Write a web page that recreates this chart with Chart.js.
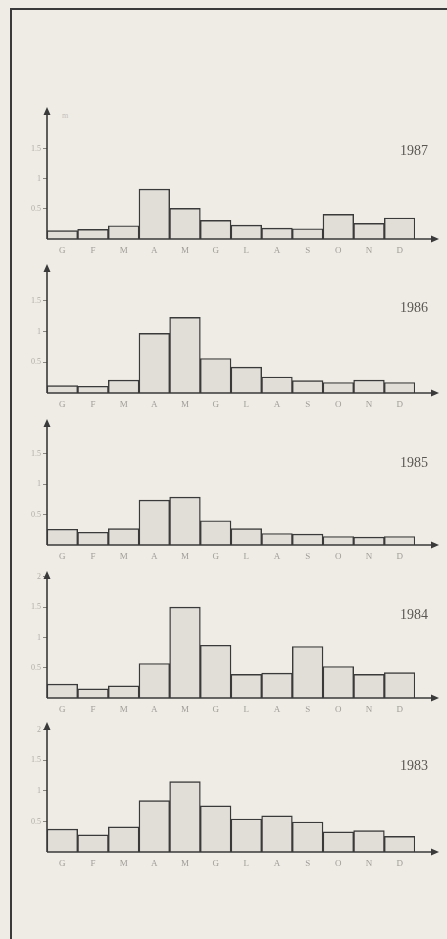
<!DOCTYPE html>
<html>
<head>
<meta charset="utf-8">
<script src="https://cdn.jsdelivr.net/npm/chart.js@4"></script>
<style>
    html, body { margin: 0; padding: 0; }
    body { width: 447px; height: 939px; background: #efece6; position: relative; overflow: hidden; }
    #frame { position: absolute; left: 10px; top: 8px; width: 460px; height: 960px;
             border-left: 2px solid #3a3a3a; border-top: 2px solid #3a3a3a; }
    canvas { position: absolute; left: 0; }
    #unit { position: absolute; left: 62px; top: 111px; font: 8px "Liberation Serif", serif; color: #c4c0ba; }
</style>
</head>
<body>
<div id="frame"></div>
<div id="unit">m</div>

<script>
const months = ['G', 'F', 'M', 'A', 'M', 'G', 'L', 'A', 'S', 'O', 'N', 'D'];
const years = ['1987', '1986', '1985', '1984', '1983'];

const values1987 = [0.14, 0.16, 0.22, 0.83, 0.51, 0.31, 0.23, 0.18, 0.17, 0.41, 0.26, 0.35];
const values1986 = [0.12, 0.11, 0.21, 0.97, 1.23, 0.56, 0.42, 0.26, 0.20, 0.17, 0.21, 0.17];
const values1985 = [0.26, 0.21, 0.27, 0.74, 0.79, 0.40, 0.27, 0.19, 0.18, 0.14, 0.13, 0.14];
const values1984 = [0.23, 0.15, 0.20, 0.57, 1.50, 0.87, 0.39, 0.41, 0.85, 0.52, 0.39, 0.42];
const values1983 = [0.375, 0.28, 0.41, 0.84, 1.15, 0.755, 0.54, 0.59, 0.49, 0.33, 0.35, 0.255];

const ticks1987 = [0.5, 1, 1.5];
const ticks1986 = [0.5, 1, 1.5];
const ticks1985 = [0.5, 1, 1.5];
const ticks1984 = [0.5, 1, 1.5, 2];
const ticks1983 = [0.5, 1, 1.5, 2];

const allValues = [values1987, values1986, values1985, values1984, values1983];
const allTicks = [ticks1987, ticks1986, ticks1985, ticks1984, ticks1983];

// layout: y of the arrow tip and of the baseline for each panel
const axisTops = [108, 265, 420, 572, 723];
const baselines = [239, 393, 545, 698, 852];
const axisMax = [2.18, 2.08, 2.06, 2.08, 2.11];

const PAD_TOP = 8;
const X_AXIS_H = 24;
const Y_AXIS_W = 47;
const INK = '#3a3a3a';
const SERIF = '"Liberation Serif", "DejaVu Serif", serif';

const axesPlugin = {
    id: 'arrowAxes',
    afterDatasetsDraw(chart, args, opts) {
        const ctx = chart.ctx;
        const a = chart.chartArea;
        const xEnd = a.right + 23;
        ctx.save();
        ctx.strokeStyle = INK;
        ctx.fillStyle = INK;
        ctx.lineWidth = 1.6;
        ctx.beginPath();
        ctx.moveTo(a.left, a.bottom);
        ctx.lineTo(a.left, a.top + 4);
        ctx.moveTo(a.left, a.bottom);
        ctx.lineTo(xEnd - 4, a.bottom);
        ctx.stroke();
        // arrow heads
        ctx.beginPath();
        ctx.moveTo(a.left, a.top - 1);
        ctx.lineTo(a.left - 3.5, a.top + 7);
        ctx.lineTo(a.left + 3.5, a.top + 7);
        ctx.closePath();
        ctx.fill();
        ctx.beginPath();
        ctx.moveTo(xEnd + 1, a.bottom);
        ctx.lineTo(xEnd - 7, a.bottom - 3.5);
        ctx.lineTo(xEnd - 7, a.bottom + 3.5);
        ctx.closePath();
        ctx.fill();
        // year label
        ctx.font = '14px ' + SERIF;
        ctx.fillStyle = '#5a5752';
        ctx.textAlign = 'right';
        ctx.textBaseline = 'middle';
        ctx.fillText(opts.year, a.right + 13, a.top + 43);
        ctx.restore();
    }
};

years.forEach((year, i) => {
    const canvas = document.createElement('canvas');
    const h = baselines[i] - axisTops[i] + PAD_TOP + X_AXIS_H;
    canvas.style.top = (axisTops[i] - PAD_TOP) + 'px';
    canvas.style.width = '447px';
    canvas.style.height = h + 'px';
    canvas.width = 447;
    canvas.height = h;
    document.body.appendChild(canvas);

    const tickVals = allTicks[i];

    new Chart(canvas, {
        type: 'bar',
        data: {
            labels: months,
            datasets: [{
                data: allValues[i],
                backgroundColor: '#e1ded8',
                borderColor: INK,
                borderWidth: 1.4,
                barPercentage: 1,
                categoryPercentage: 1
            }]
        },
        plugins: [axesPlugin],
        options: {
            responsive: false,
            animation: false,
            events: [],
            layout: { padding: { top: PAD_TOP, right: 32, left: 0, bottom: 0 } },
            plugins: {
                legend: { display: false },
                tooltip: { enabled: false },
                arrowAxes: { year: year }
            },
            scales: {
                x: {
                    grid: { display: false, drawTicks: false },
                    border: { display: false },
                    ticks: {
                        color: '#a09d98',
                        font: { family: SERIF, size: 9 },
                        padding: 6,
                        maxRotation: 0,
                        autoSkip: false
                    },
                    afterFit(scale) { scale.height = X_AXIS_H; }
                },
                y: {
                    min: 0,
                    max: axisMax[i],
                    grid: {
                        display: true,
                        drawOnChartArea: false,
                        drawTicks: true,
                        tickLength: 4,
                        color: '#8a8782'
                    },
                    border: { display: false },
                    ticks: {
                        color: '#b0ada7',
                        font: { family: SERIF, size: 8 },
                        padding: 2,
                        callback: (v) => String(v)
                    },
                    afterBuildTicks(scale) {
                        scale.ticks = tickVals.map(v => ({ value: v }));
                    },
                    afterFit(scale) { scale.width = Y_AXIS_W; }
                }
            }
        }
    });
});
</script>
</body>
</html>
